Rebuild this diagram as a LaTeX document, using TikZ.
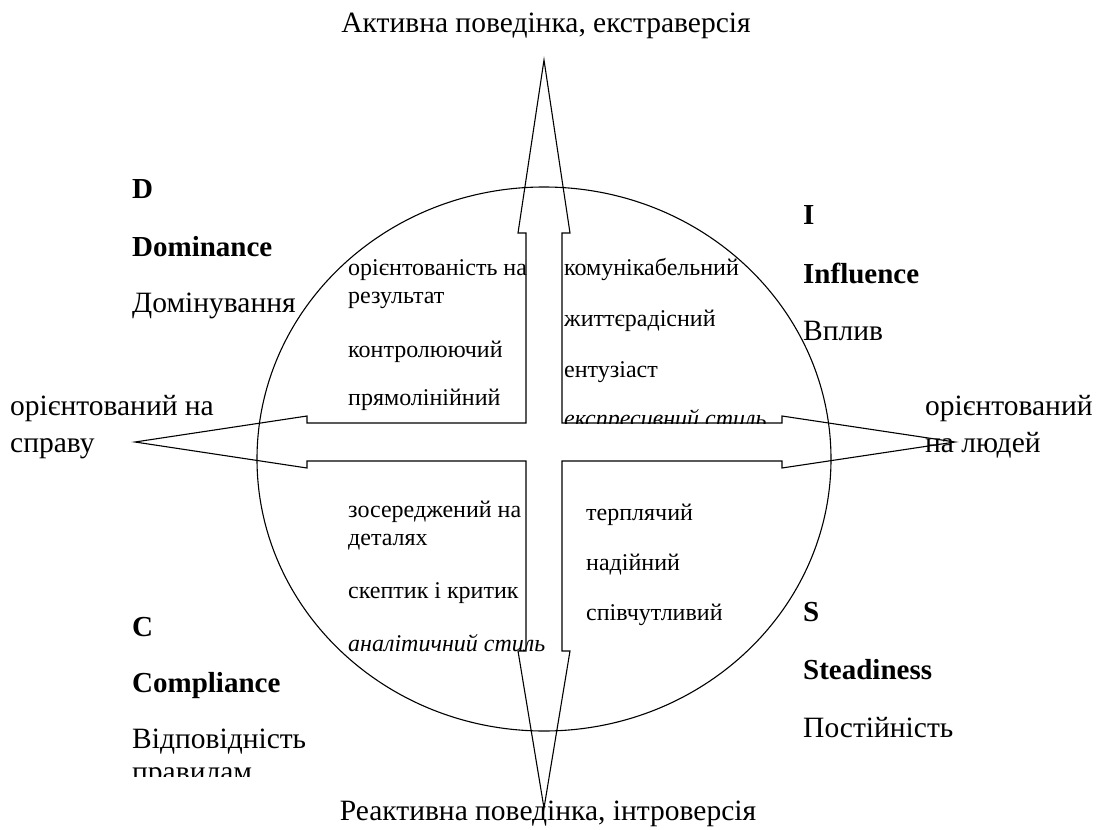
\documentclass[tikz,border=0pt]{standalone}
\usepackage{fontspec}
\setmainfont{Liberation Serif}
\begin{document}
\begin{tikzpicture}[x=1pt,y=-1pt,
  outline/.style={draw=black,line width=1.1pt,line join=miter},
  big/.style={inner sep=0pt,anchor=base west,font=\fontsize{29.5}{34}\selectfont},
  bigb/.style={big,font=\fontsize{29}{34}\selectfont\bfseries},
  small/.style={inner sep=0pt,anchor=base west,font=\fontsize{24}{28}\selectfont},
  smalli/.style={small,font=\fontsize{24}{28}\selectfont\itshape}]
\useasboundingbox (0,0) rectangle (1101,830);
% circle
\draw[outline] (544,459) ellipse [x radius=287pt, y radius=272pt];
% cross of double arrows
\coordinate (tT) at (544,60);
\coordinate (tB) at (544,808);
\coordinate (tL) at (135,442);
\coordinate (tR) at (955,442);
\draw[outline] (tT) -- (570,233) -- (562,233) -- (562,423) -- (782,423) -- (782,416)
  -- (tR) -- (782,468) -- (782,461) -- (562,461) -- (562,651) -- (570,651)
  -- (tB) -- (518,651) -- (526,651) -- (526,461) -- (307,461) -- (307,468)
  -- (tL) -- (307,416) -- (307,423) -- (526,423) -- (526,233) -- (518,233) -- cycle;
% axis labels
\node[big,anchor=base] (top) at (546,32) {Активна поведінка, екстраверсія};
\node[big,anchor=base] (bot) at (548,820) {Реактивна поведінка, інтроверсія};
\node[big] (l1) at (10,415) {орієнтований на};
\node[big] (l2) at (10,452) {справу};
\node[big] (r1) at (925,415) {орієнтований};
\node[big] (r2) at (925,452) {на людей};
% D
\node[bigb] (d1) at (132,198) {D};
\node[bigb] (d2) at (132,256) {Dominance};
\node[big] (d3) at (132,312) {Домінування};
% I
\node[bigb] (i1) at (803,224) {I};
\node[bigb] (i2) at (803,283) {Influence};
\node[big] (i3) at (803,340) {Вплив};
% S
\node[bigb] (s1) at (803,621) {S};
\node[bigb] (s2) at (803,679) {Steadiness};
\node[big] (s3) at (803,737) {Постійність};
% C
\node[bigb] (c1) at (132,636) {C};
\node[bigb] (c2) at (132,692) {Compliance};
\node[big] (c3) at (132,748) {Відповідність};
\begin{scope}
  \clip (100,760) rectangle (400,776);
  \node[big] (c4) at (132,781) {правилам};
\end{scope}
% upper left quadrant
\node[small] (ul1) at (348,275) {орієнтованість на};
\node[small] (ul2) at (348,303) {результат};
\node[small] (ul3) at (348,357) {контролюючий};
\node[small] (ul4) at (348,405) {прямолінійний};
% upper right quadrant
\node[small] (ur1) at (564,275) {комунікабельний};
\node[small] (ur2) at (564,326) {життєрадісний};
\node[small] (ur3) at (564,377) {ентузіаст};
\begin{scope}
  \clip (560,395) rectangle (800,423);
  \node[smalli] (ur4) at (564,426) {експресивний стиль};
\end{scope}
% lower left quadrant
\node[small] (ll1) at (348,517) {зосереджений на};
\node[small] (ll2) at (348,545) {деталях};
\node[small] (ll3) at (348,598) {скептик і критик};
\node[smalli] (ll4) at (348,651) {аналітичний стиль};
% lower right quadrant
\node[small] (lr1) at (586,520) {терплячий};
\node[small] (lr2) at (586,570) {надійний};
\node[small] (lr3) at (586,620) {співчутливий};
\end{tikzpicture}
\end{document}
